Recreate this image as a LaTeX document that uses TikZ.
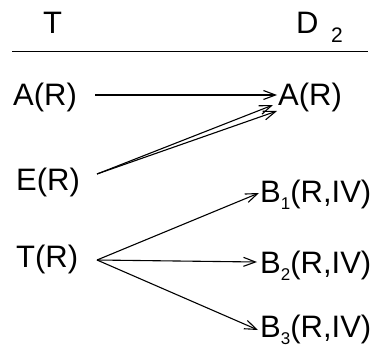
\documentclass[tikz,border=0pt]{standalone}
\usepackage{fontspec}
\setmainfont{Liberation Sans}
\usetikzlibrary{arrows.meta}
\newcommand{\lowsub}[1]{\raisebox{-7pt}{\fontsize{17}{20}\selectfont #1}}
\begin{document}
\begin{tikzpicture}[x=1pt,y=-1pt,
  lbl/.style={inner sep=0pt,anchor=base west,font=\fontsize{31}{34}\selectfont},
  sub/.style={inner sep=0pt,anchor=base west,font=\fontsize{21}{24}\selectfont},
  conn/.style={line width=1.1pt,-{Straight Barb[length=12pt,width=9pt,line width=1.1pt]}}]
\useasboundingbox (0,0) rectangle (371,348);
% header
\node[lbl] (hT) at (43,33) {T};
\node[lbl] (hD) at (296,33) {D};
\node[sub] (hD2) at (331,42) {2};
\draw[line width=1pt] (12,51) coordinate (rl) -- (368,51) coordinate (rr);
% left
\node[lbl] (lA) at (13,105) {A(R)};
\node[lbl] (lE) at (16,190) {E(R)};
\node[lbl] (lT) at (16,267) {T(R)};
% right
\node[lbl] (rA) at (278,105) {A(R)};
\node[lbl] (rB1) at (260,202) {B\lowsub{1}(R,IV)};
\node[lbl] (rB2) at (260,273) {B\lowsub{2}(R,IV)};
\node[lbl] (rB3) at (260,337) {B\lowsub{3}(R,IV)};
% endpoints
\coordinate (sA) at (95,95);
\coordinate (tA) at (277,95);
\coordinate (sE) at (97,174);
\coordinate (tE1) at (273,105);
\coordinate (tE2) at (277,111);
\coordinate (sT) at (97,260);
\coordinate (tB1) at (259,193);
\coordinate (tB2) at (257,262);
\coordinate (tB3) at (258,330);
\draw[conn] (sA) -- (tA);
\draw[conn] (sE) -- (tE1);
\draw[conn] (sE) -- (tE2);
\draw[conn] (sT) -- (tB1);
\draw[conn] (sT) -- (tB2);
\draw[conn] (sT) -- (tB3);
\end{tikzpicture}
\end{document}
